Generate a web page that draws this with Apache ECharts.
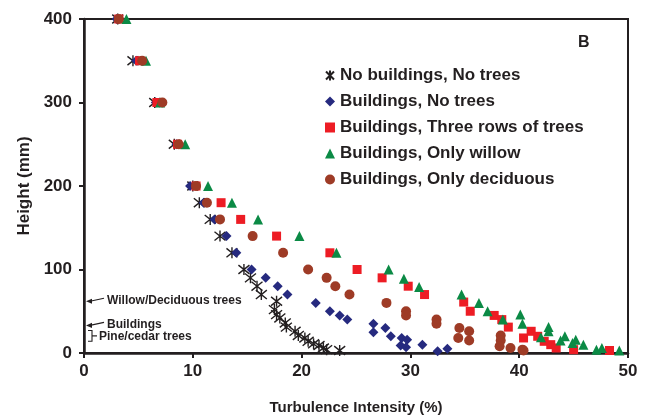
<!DOCTYPE html>
<html><head><meta charset="utf-8">
<script src="https://cdn.jsdelivr.net/npm/echarts@6/dist/echarts.min.js"></script>
<style>html,body{margin:0;padding:0;background:#fff}#c{width:646px;height:420px}</style>
</head><body><div id="c"></div>
<script>
// ---- data ----
var seriesNames = ['No buildings, No trees','Buildings, No trees','Buildings, Three rows of trees','Buildings, Only willow','Buildings, Only deciduous'];
var xTicks = [0,10,20,30,40,50];
var yTicks = [0,100,200,300,400];

var noBldX = [3.1,4.5,6.5,8.3,10.0,10.6,11.6,12.5,13.6,14.7,15.3,15.9,16.3,17.7,17.5,17.7,18.0,18.5,18.6,19.4,19.7,20.3,20.6,21.1,21.6,22.0,22.3,23.5];
var noBldY = [400,350,300,250,200,180,160,140,120,100,90,80,70,62,52,46,42,36,31,26,21,18,14,11,9,6,4,3];

var bldX = [3.0,4.8,6.6,8.5,9.75,11.0,12.0,13.1,14.0,15.4,16.7,17.8,18.7,21.3,22.6,23.5,24.2,26.6,27.7,26.6,28.2,29.2,29.7,31.1,29.1,29.6,33.4,32.5];
var bldY = [400,350,300,250,200,180,160,140,120,100,90,80,70,60,50,45,40,35,30,25,20,18,16,10,9,7,5,2];

var threeX = [3.2,5.1,6.7,8.6,10.3,12.6,14.4,17.7,22.6,25.1,27.4,29.8,31.3,34.9,35.5,37.7,38.4,39.0,41.1,40.4,41.7,42.3,42.9,43.4,45.0,48.3];
var threeY = [400,350,300,250,200,180,160,140,120,100,90,80,70,61,50,45,40,31,26,18,20,14,10,6,4,3];

var willowX = [3.9,5.7,7.0,9.3,11.4,13.6,16.0,19.8,23.2,28.0,29.4,30.8,34.7,36.3,37.1,40.1,38.5,40.3,42.7,42.7,44.2,42.0,45.2,43.8,44.9,45.9,47.6,47.1,49.2];
var willowY = [400,350,300,250,200,180,160,140,120,100,89,79,70,60,50,46,40,35,31,26,20,19,16,15,12,10,6,4,3];

var decidX = [3.2,5.35,7.2,8.7,10.3,11.3,12.5,15.5,18.3,20.6,22.3,23.1,24.4,27.8,29.6,29.6,32.4,32.4,34.5,35.4,34.4,35.4,38.3,38.3,38.2,39.2,40.3,40.4];
var decidY = [400,350,300,250,200,180,160,140,120,100,90,80,70,60,50,45,40,35,30,26,18,15,21,15,8,6,4,3];

var annoTexts = ['Willow/Deciduous trees','Buildings','Pine/cedar trees'];
var annoHeights = [62,33,20];

function pairs(xs, ys){ return xs.map(function(x,i){return [x, ys[i]];}); }

var FONT = '"Liberation Sans", Arial, sans-serif';
var TXT = '#231f20';
var starPath = 'path://M1,1L9,9M9,1L1,9M5,0L5,10';
var colors = [TXT,'#262a7f','#ed1c24','#0b8a45','#9e3b26'];
var symbols = [starPath,'diamond','rect','triangle','circle'];
var sizes = [11,10,9,10,10];
var datas = [pairs(noBldX,noBldY),pairs(bldX,bldY),pairs(threeX,threeY),pairs(willowX,willowY),pairs(decidX,decidY)];

var series = seriesNames.map(function(n,i){
  var st = i===0 ? {color:'rgba(0,0,0,0)', borderColor:TXT, borderWidth:1.4, opacity:1} : {color:colors[i], opacity:1};
  return {name:n, type:'scatter', data:datas[i], symbol:symbols[i], symbolSize:sizes[i], itemStyle:st, z:2+i, animation:false};
});

var chart = echarts.init(document.getElementById('c'), null, {renderer:'canvas'});
chart.setOption({
  animation:false,
  grid:{left:84, right:18, top:19, bottom:65, show:true, borderColor:TXT, borderWidth:2, backgroundColor:'transparent'},
  xAxis:{type:'value', min:0, max:50, interval:10,
    name:'Turbulence Intensity (%)', nameLocation:'middle', nameGap:47,
    nameTextStyle:{fontFamily:FONT, fontWeight:'bold', fontSize:15, color:TXT},
    axisLine:{lineStyle:{color:TXT, width:2.5}},
    axisTick:{show:true, length:5, lineStyle:{color:TXT, width:2}},
    axisLabel:{fontFamily:FONT, fontWeight:'bold', fontSize:17, color:TXT, margin:10},
    splitLine:{show:false}},
  yAxis:{type:'value', min:0, max:400, interval:100,
    name:'Height (mm)', nameLocation:'middle', nameGap:44, nameRotate:90,
    nameTextStyle:{fontFamily:FONT, fontWeight:'bold', fontSize:17, color:TXT},
    axisLine:{lineStyle:{color:TXT, width:2.5}},
    axisTick:{show:true, length:5, lineStyle:{color:TXT, width:2}},
    axisLabel:{fontFamily:FONT, fontWeight:'bold', fontSize:17, color:TXT, margin:12},
    splitLine:{show:false}},
  legend:{orient:'vertical', left:320, top:62, itemWidth:10, itemHeight:10, itemGap:9,
    textStyle:{fontFamily:FONT, fontWeight:'bold', fontSize:17, color:TXT, padding:[0,0,0,0]},
    data:seriesNames.map(function(n,i){return {name:n, icon:symbols[i]};})},
  series:series
});

// annotations
var g = [];
g.push({type:'text', left:578, top:35, style:{text:'B', font:'bold 16px '+FONT, fill:TXT}});
var p0 = chart.convertToPixel({gridIndex:0}, [0, annoHeights[0]]);
var p1 = chart.convertToPixel({gridIndex:0}, [0, annoHeights[1]]);
var pb1 = chart.convertToPixel({gridIndex:0}, [0, 14]);
var pb2 = chart.convertToPixel({gridIndex:0}, [0, 27]);
function arrow(tx, ty, fx, fy){
  g.push({type:'line', shape:{x1:fx, y1:fy, x2:tx+4, y2:ty}, style:{stroke:TXT, lineWidth:1.2}, z:10});
  g.push({type:'polygon', shape:{points:[[tx,ty],[tx+6,ty-2.6],[tx+6,ty+2.6]]}, style:{fill:TXT}, z:10});
}
arrow(p0[0]+2, p0[1], 104, p0[1]-3);
arrow(p1[0]+2, p1[1], 104, p1[1]-3);
g.push({type:'text', x:107, y:p0[1]-1, style:{text:annoTexts[0], font:'bold 12px '+FONT, fill:TXT, textVerticalAlign:'middle'}});
g.push({type:'text', x:107, y:p1[1]-1, style:{text:annoTexts[1], font:'bold 12px '+FONT, fill:TXT, textVerticalAlign:'middle'}});
var bx = p1[0]+4, by1 = pb2[1], by2 = pb1[1], bm = (by1+by2)/2;
g.push({type:'polyline', shape:{points:[[bx,by1],[bx+4,by1],[bx+4,by2],[bx,by2]]}, style:{stroke:TXT, lineWidth:1.1, fill:null}, z:10});
g.push({type:'line', shape:{x1:bx+4, y1:bm, x2:bx+9, y2:bm}, style:{stroke:TXT, lineWidth:1.2}, z:10});
g.push({type:'text', x:bx+11, y:bm+1, style:{text:annoTexts[2], font:'bold 12px '+FONT, fill:TXT, textVerticalAlign:'middle'}});
chart.setOption({graphic:g});
</script></body></html>
